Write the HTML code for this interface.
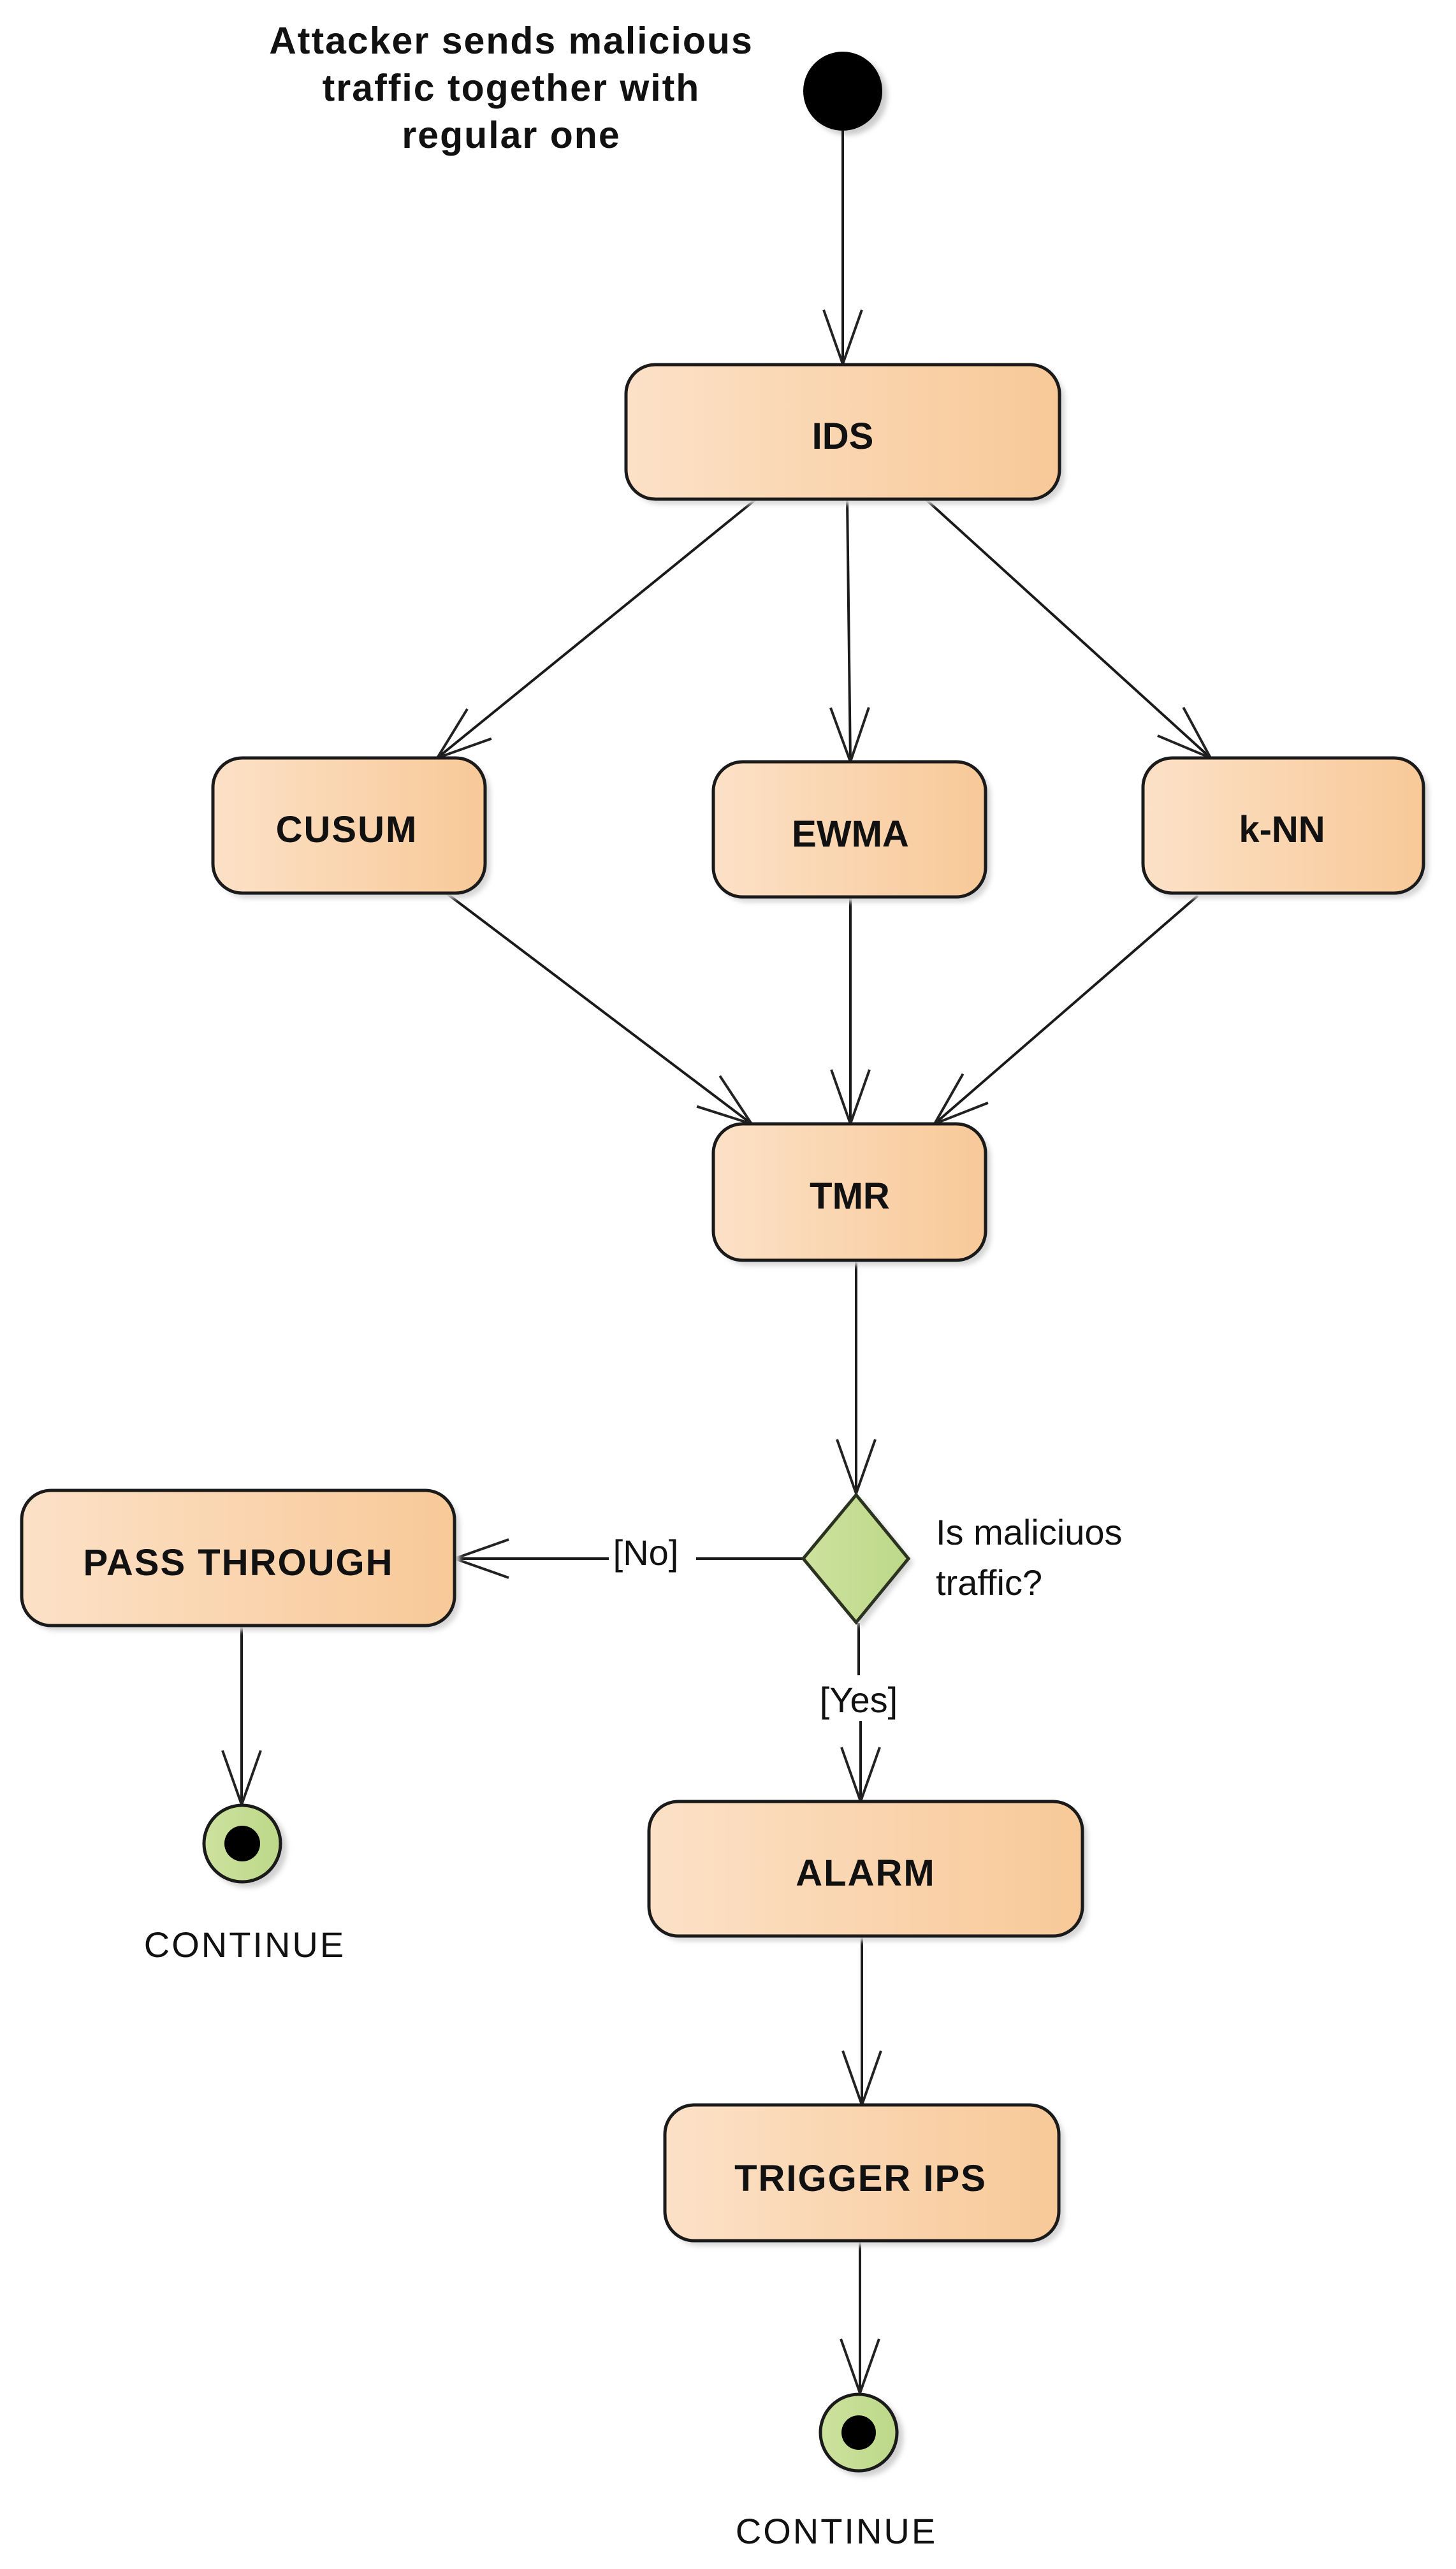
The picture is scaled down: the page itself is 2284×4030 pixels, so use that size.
<!DOCTYPE html>
<html><head><meta charset="utf-8"><style>
html,body{margin:0;padding:0;background:#fff;}
svg{display:block;}
text{font-family:"Liberation Sans",sans-serif;}
.b{font-weight:bold;font-size:58px;fill:#111;text-anchor:middle;}
.r{font-size:56px;fill:#111;}
.t{font-size:59px;letter-spacing:2px;}
</style></head><body>
<svg width="2284" height="4030" viewBox="0 0 2284 4030" xmlns="http://www.w3.org/2000/svg">
<defs>
<linearGradient id="g" x1="0" y1="0" x2="1" y2="0">
<stop offset="0" stop-color="#fce1c7"/><stop offset="1" stop-color="#f8c998"/>
</linearGradient>
<linearGradient id="gg" x1="0" y1="0" x2="1" y2="0">
<stop offset="0" stop-color="#cde29e"/><stop offset="1" stop-color="#bcd888"/>
</linearGradient>
<marker id="a" markerUnits="userSpaceOnUse" markerWidth="200" markerHeight="200" refX="0" refY="0" orient="auto" viewBox="-100 -100 200 200" overflow="visible">
<path d="M-85,-30 L0,0 L-85,30" fill="none" stroke="#222" stroke-width="4"/>
</marker>
<filter id="sh" x="-10%" y="-10%" width="130%" height="130%"><feGaussianBlur stdDeviation="4"/></filter>
</defs>

<!-- title -->
<text class="b t" x="802" y="84">Attacker sends malicious</text>
<text class="b t" x="802" y="158">traffic together with</text>
<text class="b t" x="802" y="232">regular one</text>

<!-- start -->
<circle cx="1330" cy="150" r="62" fill="#ccc" filter="url(#sh)"/>
<circle cx="1322" cy="143" r="62" fill="#000"/>

<!-- connectors -->
<g stroke="#1a1a1a" stroke-width="4" fill="none" marker-end="url(#a)">
<line x1="1322" y1="205" x2="1322" y2="571"/>
<line x1="1186" y1="783" x2="686" y2="1189"/>
<line x1="1329" y1="783" x2="1334" y2="1195"/>
<line x1="1452" y1="783" x2="1899" y2="1189"/>
<line x1="700" y1="1401" x2="1179" y2="1763"/>
<line x1="1334" y1="1407" x2="1334" y2="1763"/>
<line x1="1879" y1="1405" x2="1466" y2="1763"/>
<line x1="1343" y1="1977" x2="1343" y2="2343"/>
<line x1="379" y1="2550" x2="379" y2="2831"/>
<line x1="1352" y1="3037" x2="1352" y2="3302"/>
<line x1="1349" y1="3515" x2="1349" y2="3754"/>
</g>
<g stroke="#1a1a1a" stroke-width="4" fill="none">
<line x1="1260" y1="2445" x2="1092" y2="2445"/>
<line x1="1347" y1="2546" x2="1347" y2="2628"/>
</g>
<line x1="955" y1="2445" x2="713" y2="2445" stroke="#1a1a1a" stroke-width="4" marker-end="url(#a)"/>
<line x1="1350" y1="2700" x2="1350" y2="2826" stroke="#1a1a1a" stroke-width="4" marker-end="url(#a)"/>

<!-- boxes -->
<g>
<rect x="990" y="580" width="680" height="211" rx="46" fill="#d6d6d6" filter="url(#sh)"/>
<rect x="982" y="572" width="680" height="211" rx="46" fill="url(#g)" stroke="#1a1a1a" stroke-width="5"/>
<text class="b" x="1322" y="704">IDS</text>

<rect x="342" y="1197" width="427" height="212" rx="46" fill="#d6d6d6" filter="url(#sh)"/>
<rect x="334" y="1189" width="427" height="212" rx="46" fill="url(#g)" stroke="#1a1a1a" stroke-width="5"/>
<text class="b" x="544" y="1321" style="letter-spacing:2px">CUSUM</text>

<rect x="1127" y="1203" width="427" height="212" rx="46" fill="#d6d6d6" filter="url(#sh)"/>
<rect x="1119" y="1195" width="427" height="212" rx="46" fill="url(#g)" stroke="#1a1a1a" stroke-width="5"/>
<text class="b" x="1334" y="1328">EWMA</text>

<rect x="1801" y="1197" width="440" height="212" rx="46" fill="#d6d6d6" filter="url(#sh)"/>
<rect x="1793" y="1189" width="440" height="212" rx="46" fill="url(#g)" stroke="#1a1a1a" stroke-width="5"/>
<text class="b" x="2011" y="1321">k-NN</text>

<rect x="1127" y="1771" width="427" height="214" rx="46" fill="#d6d6d6" filter="url(#sh)"/>
<rect x="1119" y="1763" width="427" height="214" rx="46" fill="url(#g)" stroke="#1a1a1a" stroke-width="5"/>
<text class="b" x="1333" y="1896">TMR</text>

<rect x="42" y="2346" width="679" height="212" rx="46" fill="#d6d6d6" filter="url(#sh)"/>
<rect x="34" y="2338" width="679" height="212" rx="46" fill="url(#g)" stroke="#1a1a1a" stroke-width="5"/>
<text class="b" x="374" y="2471" style="letter-spacing:2px">PASS THROUGH</text>

<rect x="1026" y="2834" width="680" height="211" rx="46" fill="#d6d6d6" filter="url(#sh)"/>
<rect x="1018" y="2826" width="680" height="211" rx="46" fill="url(#g)" stroke="#1a1a1a" stroke-width="5"/>
<text class="b" x="1358" y="2958" style="letter-spacing:2px">ALARM</text>

<rect x="1051" y="3310" width="618" height="213" rx="46" fill="#d6d6d6" filter="url(#sh)"/>
<rect x="1043" y="3302" width="618" height="213" rx="46" fill="url(#g)" stroke="#1a1a1a" stroke-width="5"/>
<text class="b" x="1350" y="3437" style="letter-spacing:2px">TRIGGER IPS</text>
</g>

<!-- decision -->
<polygon points="1351,2351 1433,2451 1351,2553 1268,2451" fill="#d6d6d6" filter="url(#sh)"/>
<polygon points="1343,2345 1425,2445 1343,2545 1260,2445" fill="url(#gg)" stroke="#2b3320" stroke-width="5"/>
<text class="r" x="1468" y="2423">Is maliciuos</text>
<text class="r" x="1468" y="2502">traffic?</text>
<text class="r" x="1013" y="2455" text-anchor="middle">[No]</text>
<text class="r" x="1347" y="2686" text-anchor="middle">[Yes]</text>

<!-- end nodes -->
<circle cx="388" cy="2899" r="62" fill="#d0d0d0" filter="url(#sh)"/>
<circle cx="380" cy="2892" r="60" fill="url(#gg)" stroke="#1a1a1a" stroke-width="5"/>
<circle cx="380" cy="2892" r="28" fill="#000"/>
<text class="r" x="384" y="3070" text-anchor="middle" style="letter-spacing:3px">CONTINUE</text>

<circle cx="1355" cy="3823" r="62" fill="#d0d0d0" filter="url(#sh)"/>
<circle cx="1347" cy="3816" r="60" fill="url(#gg)" stroke="#1a1a1a" stroke-width="5"/>
<circle cx="1347" cy="3816" r="27" fill="#000"/>
<text class="r" x="1312" y="3990" text-anchor="middle" style="letter-spacing:3px">CONTINUE</text>
</svg>
</body></html>
